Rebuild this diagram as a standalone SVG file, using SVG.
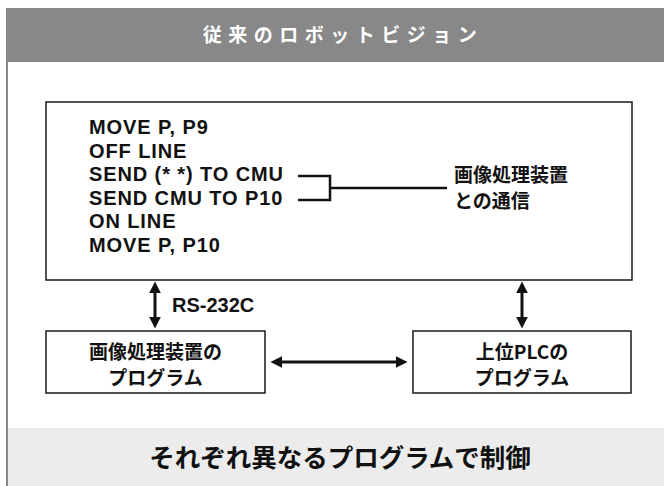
<svg xmlns="http://www.w3.org/2000/svg" width="664" height="486" viewBox="0 0 664 486">
<style>
.code{font-family:"Liberation Sans","Noto Sans CJK JP",sans-serif;font-weight:bold;font-size:20px;letter-spacing:0.9px;fill:#111}
.jp{font-family:"Noto Sans CJK JP","Liberation Sans",sans-serif;font-weight:bold;fill:#111}
.box{fill:#fff;stroke:#1a1a1a;stroke-width:1.5}
.conn{stroke:#111;stroke-width:3;fill:none}
.br{stroke:#111;stroke-width:2.5;fill:none}
</style>
<defs>
<marker id="ah" viewBox="0 0 10 10" refX="2" refY="5" markerWidth="4" markerHeight="4" orient="auto-start-reverse" markerUnits="strokeWidth">
<path d="M0,0 L10,5 L0,10 z" fill="#111"/>
</marker>
</defs>
<rect x="0" y="0" width="664" height="486" fill="#fff"/>
<g id="header">
<rect x="6" y="8" width="658" height="54" fill="#888"/>
<text x="343" y="42" text-anchor="middle" class="jp" style="font-size:19px;fill:#fff;letter-spacing:6.5px">従来のロボットビジョン</text>
</g>
<rect x="6" y="62" width="2" height="424" fill="#888"/>
<g id="footer">
<rect x="8" y="428" width="656" height="58" fill="#ebeceb"/>
<text x="340" y="467" text-anchor="middle" class="jp" style="font-size:25.5px">それぞれ異なるプログラムで制御</text>
</g>
<g id="robot-program">
<rect class="box" x="46" y="102" width="586" height="178"/>
<text class="code" x="89" y="134">MOVE P, P9</text>
<text class="code" x="89" y="157.5">OFF LINE</text>
<text class="code" x="89" y="181">SEND (* *) TO CMU</text>
<text class="code" x="89" y="204.5">SEND CMU TO P10</text>
<text class="code" x="89" y="228">ON LINE</text>
<text class="code" x="89" y="251.5">MOVE P, P10</text>
<text class="jp" x="454" y="182" style="font-size:19px">画像処理装置</text>
<text class="jp" x="454" y="208" style="font-size:19px">との通信</text>
</g>
<g id="vision-program">
<rect class="box" x="46" y="331" width="219" height="62"/>
<text class="jp" x="155.5" y="359" text-anchor="middle" style="font-size:19px">画像処理装置の</text>
<text class="jp" x="155.5" y="385" text-anchor="middle" style="font-size:19px">プログラム</text>
</g>
<g id="plc-program">
<rect class="box" x="413" y="331" width="218" height="62"/>
<text class="jp" x="522" y="359" text-anchor="middle" style="font-size:19px">上位PLCの</text>
<text class="jp" x="522" y="385" text-anchor="middle" style="font-size:19px">プログラム</text>
</g>
<g id="connectors">
<path class="br" d="M298,176 H330 V200 H298 M330,188 H447"/>
<line class="conn" x1="155" y1="291" x2="155" y2="319" marker-start="url(#ah)" marker-end="url(#ah)"/>
<text class="code" x="172" y="312" style="letter-spacing:0px">RS-232C</text>
<line class="conn" x1="522" y1="291" x2="522" y2="319" marker-start="url(#ah)" marker-end="url(#ah)"/>
<line class="conn" x1="280" y1="362" x2="398" y2="362" marker-start="url(#ah)" marker-end="url(#ah)"/>
</g>
</svg>
